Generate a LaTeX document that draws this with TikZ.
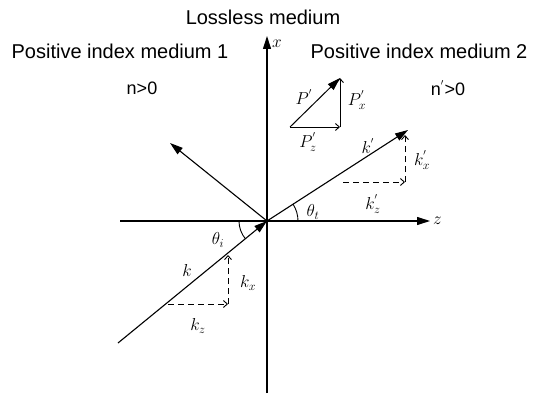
\documentclass[tikz,border=0pt]{standalone}
\usepackage{fontspec}
\setmainfont{Liberation Sans}
\usepackage{amsmath}
\usetikzlibrary{arrows.meta}
\tikzset{
  % axes and wave vectors: big filled head
  axisarrow/.style={-{Triangle[length=13pt,width=8pt]}, line width=1.1pt},
  % dashed component: small open head
  comparrow/.style={-{Straight Barb[length=4pt,width=7pt]}, dashed, dash pattern=on 6pt off 4pt, line width=0.9pt},
  % component of P': thin with small open head
  pcomp/.style={-{Straight Barb[length=4pt,width=7pt]}, line width=0.9pt},
  % medium texts
  medtext/.style={font=\fontsize{20}{24}\selectfont, inner sep=0pt},
  % math labels
  veclabel/.style={font=\fontsize{18}{21}\selectfont, inner sep=1pt},
}

\begin{document}
\begin{tikzpicture}[x=1pt, y=-1pt]
  \useasboundingbox (0,0) rectangle (540,393);

  % ======= points =======
  \coordinate (O) at (267,221);
  \coordinate (xbot) at (267,393);
  \coordinate (xtop) at (267,36);
  \coordinate (zleft) at (120,221);
  \coordinate (zright) at (430,221);
  \coordinate (kin) at (118,343);
  \coordinate (kout) at (408,130);
  \coordinate (krefl) at (170,143);

  % ======= texts =======
  \node[medtext] (lossless) at (263,17) {Lossless medium};
  \node[medtext] (med1) at (120,51) {Positive index medium 1};
  \node[medtext] (med2) at (419,51) {Positive index medium 2};
  \node[medtext, font=\fontsize{18}{22}\selectfont] (n1) at (142,88) {n>0};
  \node[medtext, font=\fontsize{18}{22}\selectfont] (n2) at (448,88) {n$^{'}$>0};

  % ======= axes =======
  \draw[axisarrow] (xbot) -- (xtop);
  \node[veclabel, anchor=west] (xlab) at (271,44) {$x$};
  \draw[axisarrow] (zleft) -- (zright);
  \node[veclabel, anchor=west] (zlab) at (432,221) {$z$};

  % ======= rays =======
  \draw[axisarrow] (kin) -- (O);
  \draw[axisarrow] (O) -- (kout);
  \draw[axisarrow] (O) -- (krefl);

  % angles
  \draw[line width=0.9pt] ([shift={(180:28pt)}]O) arc[start angle=180, end angle=219.3, radius=28pt];
  \draw[line width=0.9pt] ([shift={(0:31pt)}]O) arc[start angle=0, end angle=33, radius=31pt];
  \node[veclabel] (thi) at (218,240) {$\theta_i$};
  \node[veclabel] (tht) at (313,212) {$\theta_t$};

  % incident wave vector and its components
  \coordinate (ka) at (168,304);
  \coordinate (kb) at (228,304);
  \coordinate (kc) at (228,255);
  \draw[comparrow] (ka) -- (kb);
  \draw[comparrow] (kb) -- (kc);
  \node[veclabel] (klab) at (187,270) {$k$};
  \node[veclabel] (kxlab) at (248,283) {$k_x$};
  \node[veclabel] (kzlab) at (198,326) {$k_z$};

  % refracted wave vector and its components
  \coordinate (qa) at (343,182);
  \coordinate (qb) at (405,182);
  \coordinate (qc) at (405,135);
  \draw[comparrow] (qa) -- (qb);
  \draw[comparrow] (qb) -- (qc);
  \node[veclabel] (kplab) at (368,146) {$k^{'}$};
  \node[veclabel] (kpxlab) at (422,160) {$k_x^{'}$};
  \node[veclabel] (kpzlab) at (373,204) {$k_z^{'}$};

  % ======= Poynting vector P' =======
  \coordinate (pa) at (290,127);
  \coordinate (pb) at (340,127);
  \coordinate (pc) at (340,78);
  \draw[-{Triangle[length=13pt,width=8pt]}, line width=1pt] (pa) -- (pc);
  \draw[pcomp] (pa) -- (pb);
  \draw[pcomp] (pb) -- (pc);
  \node[veclabel] (plab) at (304,97) {$P^{'}$};
  \node[veclabel] (pxlab) at (357,100) {$P_x^{'}$};
  \node[veclabel] (pzlab) at (308,142) {$P_z^{'}$};

\end{tikzpicture}
\end{document}
